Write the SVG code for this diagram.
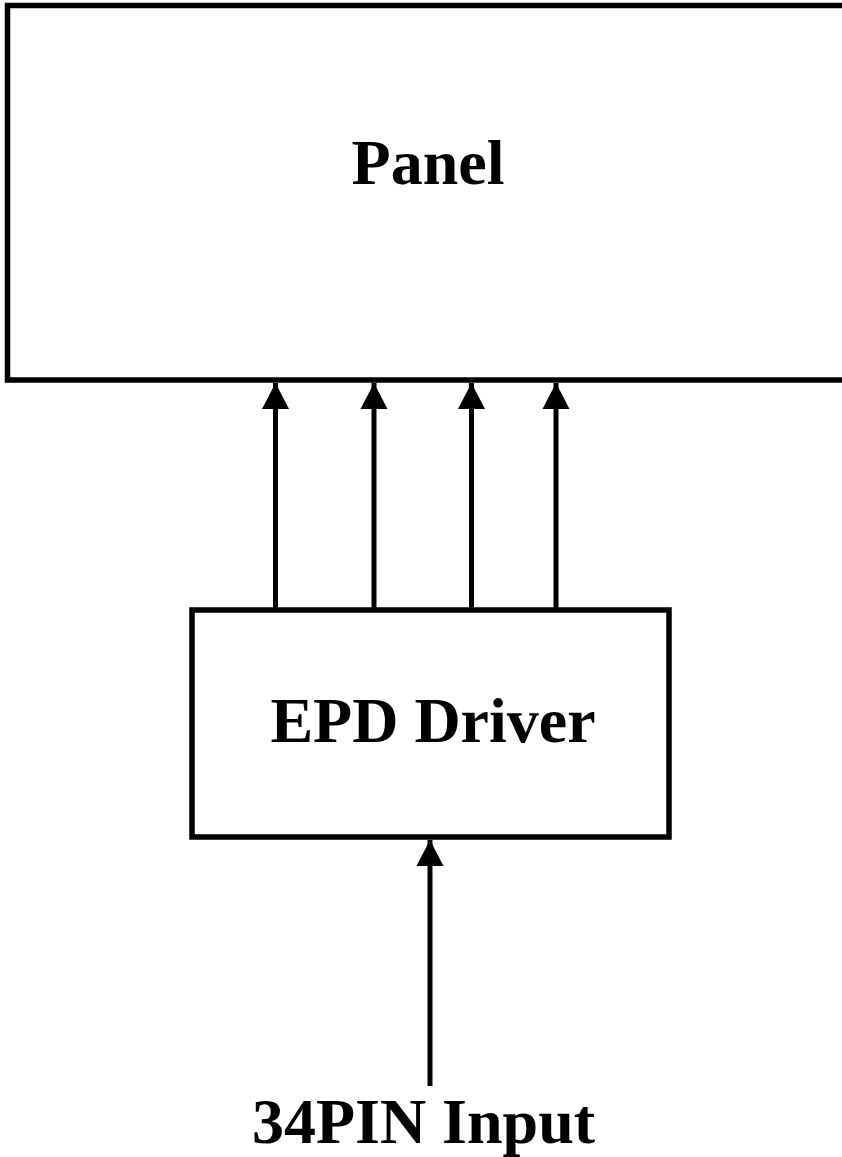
<svg xmlns="http://www.w3.org/2000/svg" width="842" height="1157" viewBox="0 0 842 1157">
<style>
.box{fill:#fff;stroke:#000;stroke-width:5.5}
.lbl{font-family:"Liberation Serif","Times New Roman",serif;font-weight:bold;font-size:64px;fill:#000;text-anchor:middle}
.con{stroke:#000;stroke-width:5;fill:none}
</style>
<defs>
<marker id="ah" markerUnits="userSpaceOnUse" markerWidth="28" markerHeight="28" viewBox="0 0 28 28" refX="26" refY="14" orient="auto">
<path d="M0,0.5 L26,14 L0,27.5 Z" fill="#000"/>
</marker>
</defs>
<rect width="842" height="1157" fill="#fff"/>
<g id="panel">
<rect class="box" x="7.5" y="5.5" width="842" height="374.5"/>
<text class="lbl" x="428" y="184">Panel</text>
</g>
<g id="driver">
<rect class="box" x="192" y="610" width="477" height="227"/>
<text class="lbl" x="433" y="742">EPD Driver</text>
</g>
<g id="input">
<text class="lbl" x="423.5" y="1143">34PIN Input</text>
</g>
<g id="connectors">
<line class="con" x1="275.5" y1="608" x2="275.5" y2="383" marker-end="url(#ah)"/>
<line class="con" x1="374" y1="608" x2="374" y2="383" marker-end="url(#ah)"/>
<line class="con" x1="471.5" y1="608" x2="471.5" y2="383" marker-end="url(#ah)"/>
<line class="con" x1="556" y1="608" x2="556" y2="383" marker-end="url(#ah)"/>
<line class="con" x1="430" y1="1086" x2="430" y2="840" marker-end="url(#ah)"/>
</g>
</svg>
